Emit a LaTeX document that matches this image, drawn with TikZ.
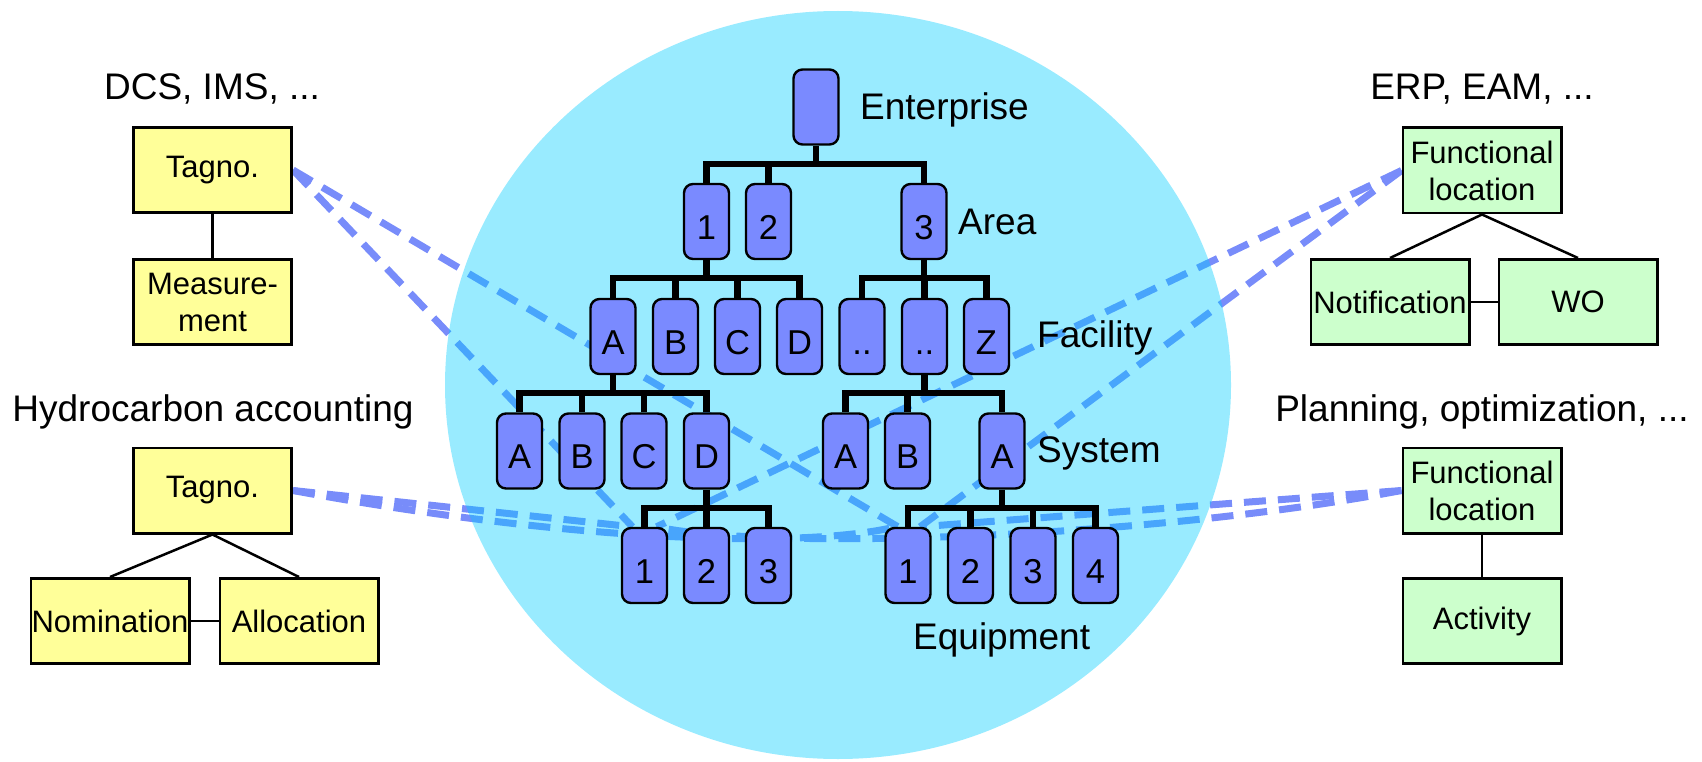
\documentclass[tikz,border=0pt]{standalone}
\usepackage{fontspec}
\setmainfont{Liberation Sans}
\usetikzlibrary{calc}
\pgfdeclarelayer{lines}
\pgfdeclarelayer{halo}
\pgfsetlayers{lines,halo,main}
\definecolor{nodeblue}{RGB}{122,138,255}
\definecolor{dashblue}{RGB}{120,140,250}
\definecolor{ellcyan}{RGB}{0,204,255}
\definecolor{yelbox}{RGB}{255,255,153}
\definecolor{grnbox}{RGB}{204,255,204}
\begin{document}
\begin{tikzpicture}[x=1pt,y=-1pt,
  treenode/.style={draw=black, line width=2.4pt, fill=nodeblue, rounded corners=9pt,
    minimum width=45pt, minimum height=75pt, inner sep=0pt,
    font=\fontsize{34.5}{34.5}\selectfont, text height=35pt, text depth=0pt},
  treeline/.style={line width=6.5pt, line join=miter},
  ybox/.style={draw=black, line width=2.7pt, fill=yelbox, minimum width=158.3pt,
    minimum height=85.3pt, inner sep=0pt, align=center, font=\fontsize{31}{37}\selectfont},
  gbox/.style={ybox, fill=grnbox},
  boxlink/.style={line width=2.5pt},
  lvl/.style={inner sep=0pt, font=\fontsize{37}{44}\selectfont},
  dashline/.style={draw=dashblue, line width=7pt, dash pattern=on 22pt off 12pt}]
\useasboundingbox (0,0) rectangle (1702,762);

% side boxes
\node[ybox] (T1) at (212.5,170) {Tagno.};
\node[ybox] (Meas) at (212.5,302) {Measure-\\ment};
\node[ybox] (T2) at (212.5,490.5) {Tagno.};
\node[ybox] (Nom) at (110,621) {Nomination};
\node[ybox] (Alloc) at (299,621) {Allocation};
\node[gbox] (FL1) at (1482,170.5) {Functional\\location};
\node[gbox] (Notif) at (1390,302) {Notification};
\node[gbox] (WO) at (1578,302) {WO};
\node[gbox] (FL2) at (1482,490.5) {Functional\\location};
\node[gbox] (Act) at (1482,621) {Activity};

\draw[boxlink] (T1.south) -- (Meas.north);
\draw[boxlink] (T2.south) -- (Nom.north);
\draw[boxlink] (T2.south) -- (Alloc.north);
\draw[boxlink] (Nom.east) -- (Alloc.west);
\draw[boxlink] (FL1.south) -- (Notif.north);
\draw[boxlink] (FL1.south) -- (WO.north);
\draw[boxlink] (Notif.east) -- (WO.west);
\draw[boxlink] (FL2.south) -- (Act.north);

% titles
\node[lvl, anchor=base] (lDCS) at (212,100) {DCS, IMS, ...};
\node[lvl, anchor=base] (lERP) at (1482,100) {ERP, EAM, ...};
\node[lvl, anchor=base] (lHC) at (213,421) {Hydrocarbon accounting};
\node[lvl, anchor=base] (lPlan) at (1482,421) {Planning, optimization, ...};

% tree nodes
\node[treenode] (ent) at (816,107) {};
\node[treenode] (a1) at (706.5,221.5) {1};
\node[treenode] (a2) at (768.5,221.5) {2};
\node[treenode] (a3) at (924,221.5) {3};
\node[treenode] (fA) at (613,336.5) {A};
\node[treenode] (fB) at (675.5,336.5) {B};
\node[treenode] (fC) at (737.5,336.5) {C};
\node[treenode] (fD) at (799.5,336.5) {D};
\node[treenode] (fE) at (862,336.5) {..};
\node[treenode] (fF) at (924.5,336.5) {..};
\node[treenode] (fZ) at (986.5,336.5) {Z};
\node[treenode] (sA) at (519.5,451) {A};
\node[treenode] (sB) at (582,451) {B};
\node[treenode] (sC) at (644,451) {C};
\node[treenode] (sD) at (706.5,451) {D};
\node[treenode] (sA2) at (845.5,451) {A};
\node[treenode] (sB2) at (907.5,451) {B};
\node[treenode] (sA3) at (1002,451) {A};
\node[treenode] (eL1) at (644.5,565.5) {1};
\node[treenode] (eL2) at (706.5,565.5) {2};
\node[treenode] (eL3) at (768.5,565.5) {3};
\node[treenode] (eR1) at (908,565.5) {1};
\node[treenode] (eR2) at (970.5,565.5) {2};
\node[treenode] (eR3) at (1033,565.5) {3};
\node[treenode] (eR4) at (1095.5,565.5) {4};

% level labels
\node[lvl, anchor=base west] (lEnt) at (860,120) {Enterprise};
\node[lvl, anchor=base west] (lArea) at (958,234) {Area};
\node[lvl, anchor=base west] (lFac) at (1037,347) {Facility};
\node[lvl, anchor=base west] (lSys) at (1037,462) {System};
\node[lvl, anchor=base west] (lEq) at (913,649) {Equipment};

% tree lines
\coordinate (b1) at (0,164);
\coordinate (b2) at (0,278);
\coordinate (b3) at (0,393);
\coordinate (b4) at (0,508);
\draw[treeline] (ent.south) -- (ent.south |- b1);
\draw[treeline] (a1.north) |- (a3.north |- b1) -- (a3.north);
\draw[treeline] (a2.north) -- (a2.north |- b1);
\draw[treeline] (a1.south) -- (a1.south |- b2);
\draw[treeline] (fA.north) |- (fD.north |- b2) -- (fD.north);
\draw[treeline] (fB.north) -- (fB.north |- b2);
\draw[treeline] (fC.north) -- (fC.north |- b2);
\draw[treeline] (a3.south) -- (a3.south |- b2);
\draw[treeline] (fE.north) |- (fZ.north |- b2) -- (fZ.north);
\draw[treeline] (fF.north) -- (fF.north |- b2);
\draw[treeline] (fA.south) -- (fA.south |- b3);
\draw[treeline] (sA.north) |- (sD.north |- b3) -- (sD.north);
\draw[treeline] (sB.north) -- (sB.north |- b3);
\draw[treeline] (sC.north) -- (sC.north |- b3);
\draw[treeline] (fF.south) -- (fF.south |- b3);
\draw[treeline] (sA2.north) |- (sA3.north |- b3) -- (sA3.north);
\draw[treeline] (sB2.north) -- (sB2.north |- b3);
\draw[treeline] (sD.south) -- (sD.south |- b4);
\draw[treeline] (eL1.north) |- (eL3.north |- b4) -- (eL3.north);
\draw[treeline] (eL2.north) -- (eL2.north |- b4);
\draw[treeline] (sA3.south) -- (sA3.south |- b4);
\draw[treeline] (eR1.north) |- (eR4.north |- b4) -- (eR4.north);
\draw[treeline] (eR2.north) -- (eR2.north |- b4);
\draw[treeline] (eR3.north) -- (eR3.north |- b4);

% halo
\begin{pgfonlayer}{halo}
\fill[ellcyan, fill opacity=0.4] (838,385) ellipse [x radius=393pt, y radius=374pt];
\end{pgfonlayer}

% dashed links
\begin{pgfonlayer}{lines}
\draw[dashline] (T1.east) -- ([xshift=-12pt]eL1.north);
\draw[dashline] (T1.east) -- ([xshift=-10pt]eR1.north);
\draw[dashline] (FL1.west) -- ([xshift=12pt]eL1.north);
\draw[dashline] (FL1.west) -- ([xshift=12pt]eR1.north);
\draw[dashline] (T2.east) -- ([xshift=-12pt]eL1.north);
\draw[dashline] (T2.east) .. controls (560,540) and (800,550) .. ([xshift=-12pt]eR1.north);
\draw[dashline] (FL2.west) -- ([xshift=12pt]eR1.north);
\draw[dashline] (FL2.west) .. controls (1140,540) and (760,550) .. ([xshift=12pt]eL1.north);
\end{pgfonlayer}
\end{tikzpicture}
\end{document}
